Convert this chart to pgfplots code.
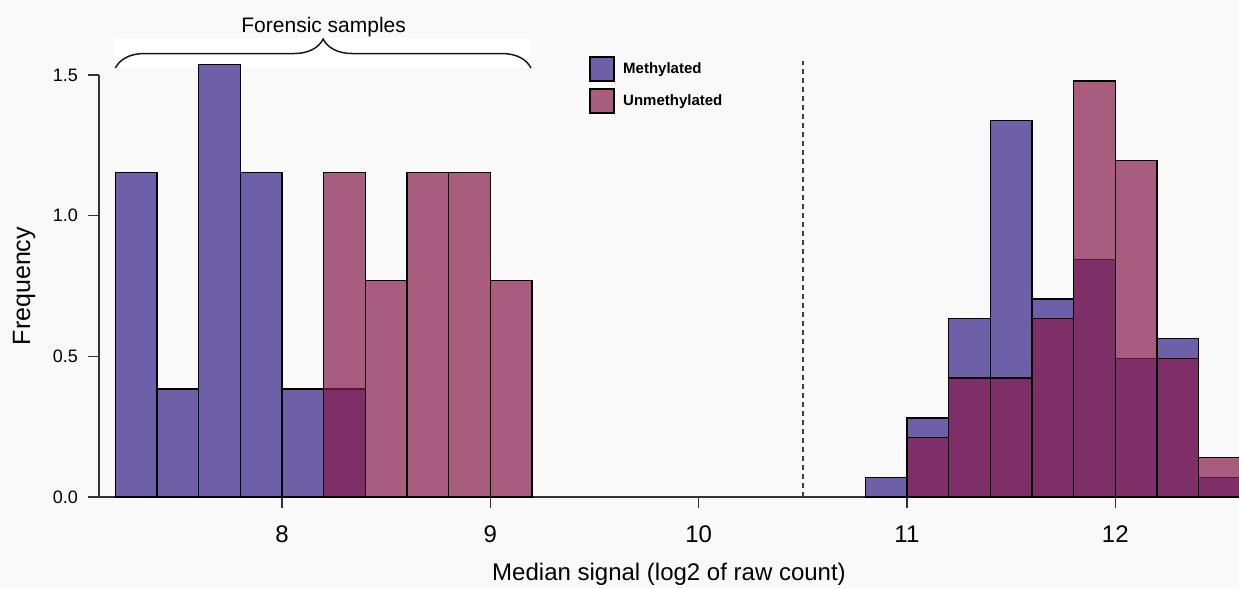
\documentclass[border=0pt]{standalone}
\usepackage{fontspec}
\setmainfont{Liberation Sans}
\usepackage{pgfplots}
\pgfplotsset{compat=1.18}
\usetikzlibrary{decorations.pathreplacing}
\definecolor{bg}{RGB}{249,249,249}
\definecolor{met}{RGB}{109,95,168}
\definecolor{unm}{RGB}{135,28,76}
\pagecolor{bg}
\begin{document}
\begin{tikzpicture}
\begin{axis}[
  scale only axis, width=1140pt, height=422pt,
  xmin=7.1215, xmax=12.594, ymin=0, ymax=1.5,
  axis x line*=bottom, axis y line*=left,
  clip=false,
  axis line style={line width=1.3pt, black!80},
  every tick/.style={line width=1.3pt, black!80},
  tick align=outside, major tick length=11pt,
  xtick={8,9,10,11,12}, ytick={0,0.5,1,1.5},
  /pgf/number format/assume math mode=true,
  xticklabel style={font=\fontsize{24}{28}\selectfont, anchor=base, inner sep=0pt, yshift=-34pt},
  yticklabel style={font=\fontsize{18}{21}\selectfont, anchor=east, inner sep=0pt, xshift=-10pt,
     /pgf/number format/.cd, fixed, fixed zerofill, precision=1},
  xlabel={Median signal (log2 of raw count)},
  xlabel style={font=\fontsize{24}{28}\selectfont, at={(axis description cs:0.5,0)}, anchor=base, yshift=-83pt},
  ylabel={Frequency},
  ylabel style={font=\fontsize{25}{30}\selectfont, at={(axis description cs:-0.0605,0.5)}, anchor=base},
]
% bracket
\fill[white] (axis cs:7.2,1.525) rectangle (axis cs:9.195,1.632);
\draw[decorate, decoration={brace, amplitude=29pt}, line width=1.5pt, black!90]
  (axis cs:7.2,1.525) -- (axis cs:9.195,1.525);
\node[anchor=base, inner sep=0pt, font=\fontsize{21}{25}\selectfont] at (axis cs:8.2,1.6495) {Forensic samples};

% Methylated
\addplot[ybar, bar width=0.2, bar shift=0, fill=met, draw=black, line width=1.4pt]
  coordinates {(7.3,1.15385) (7.5,0.38462) (7.7,1.53846) (7.9,1.15385) (8.1,0.38462) (8.3,0.38462)};
\addplot[ybar, bar width=0.2, bar shift=0, fill=met, draw=black, line width=1.4pt]
  coordinates {(10.9,0.07042) (11.1,0.28169) (11.3,0.63380) (11.5,1.33803) (11.7,0.70423)
               (11.9,0.84507) (12.1,0.49296) (12.3,0.56338) (12.5,0.07042)};
% Unmethylated
\addplot[ybar, bar width=0.2, bar shift=0, fill=unm, fill opacity=0.7, draw=black, line width=1.4pt]
  coordinates {(8.3,1.15385) (8.5,0.76923) (8.7,1.15385) (8.9,1.15385) (9.1,0.76923)};
\addplot[ybar, bar width=0.2, bar shift=0, fill=unm, fill opacity=0.7, draw=black, line width=1.4pt]
  coordinates {(11.1,0.21127) (11.3,0.42254) (11.5,0.42254) (11.7,0.63380) (11.9,1.47887)
               (12.1,1.19718) (12.3,0.49296) (12.5,0.14085)};

% dashed divider
\draw[black!75, line width=1.5pt, dash pattern=on 5pt off 4pt] (axis cs:10.5,0) -- (axis cs:10.5,1.55);

% legend
\draw[fill=met, line width=1.8pt] (axis cs:9.4787,1.5642) rectangle (axis cs:9.5939,1.4789);
\draw[fill=unm, fill opacity=0.7, line width=1.8pt] (axis cs:9.4787,1.4504) rectangle (axis cs:9.5939,1.3651);
\node[anchor=base west, inner sep=0pt, font=\fontsize{15}{18}\selectfont\bfseries] at (axis cs:9.637,1.5063) {Methylated};
\node[anchor=base west, inner sep=0pt, font=\fontsize{15}{18}\selectfont\bfseries] at (axis cs:9.637,1.3917) {Unmethylated};

\coordinate (BL) at (axis cs:6.6462,-0.3235);
\coordinate (TR) at (axis cs:12.594,1.7668);
\end{axis}
\pgfresetboundingbox
\path[use as bounding box] (BL) rectangle (TR);
\end{tikzpicture}
\end{document}
